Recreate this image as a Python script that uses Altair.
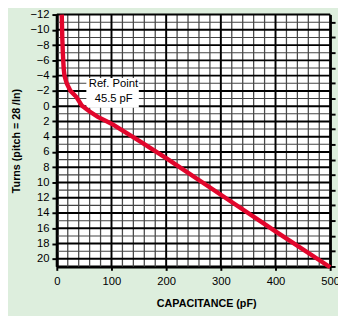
import altair as alt
import pandas as pd

# Curve
cap_pf = [9, 10, 11, 12.5, 14, 18, 25, 36, 45.5, 60, 75, 100, 150, 200, 300, 400, 500]
turns = [-12, -9, -7, -5, -4, -3, -2, -1.2, -0.1, 0.7, 1.4, 2.3, 4.5, 6.8, 11.6, 16.4, 21.1]

x_ticks = [0, 100, 200, 300, 400, 500]
x_minor = [20, 40, 60, 80, 120, 140, 160, 180, 220, 240, 260, 280,
           320, 340, 360, 380, 420, 440, 460, 480]
y_ticks = [-12, -10, -8, -6, -4, -2, 0, 2, 4, 6, 8, 10, 12, 14, 16, 18, 20]
y_minor = [-11, -9, -7, -5, -3, -1, 1, 3, 5, 7, 9, 11, 13, 15, 17, 19]
y_right_ticks = [-11, -9, -7, -5, -3, -1, 1, 3, 5, 7, 9, 11, 13, 15, 17, 19, 21]

ann_text = ["Ref. Point", "45.5 pF"]
ann_x = [103.5, 104]
ann_y = [-2.9, -0.9]
box_x = [54, 150]
box_y = [-3.7, 0.2]

FONT = "Liberation Sans"
xs = alt.Scale(domain=[0, 500], nice=False, zero=False)
ys = alt.Scale(domain=[-12, 21], reverse=True, nice=False, zero=False)

df_line = pd.DataFrame({"c": cap_pf, "t": turns})
df_xmin = pd.DataFrame({"x": x_minor})
df_xmaj = pd.DataFrame({"x": x_ticks})
df_ymin = pd.DataFrame({"y": y_minor})
df_ymaj = pd.DataFrame({"y": y_ticks})
df_box = pd.DataFrame({"x": [box_x[0]], "x2": [box_x[1]], "y": [box_y[0]], "y2": [box_y[1]]})
df_ann = pd.DataFrame({"x": ann_x, "y": ann_y, "label": ann_text})

vmin = alt.Chart(df_xmin).mark_rule(color="#4a4a4a", strokeWidth=1.3).encode(
    x=alt.X("x:Q", scale=xs, axis=None))
hmin = alt.Chart(df_ymin).mark_rule(color="#444444", strokeWidth=1.1).encode(
    y=alt.Y("y:Q", scale=ys, axis=alt.Axis(
        orient="right", values=y_right_ticks, labels=False, title=None, grid=False,
        domain=True, domainColor="black", domainWidth=2.5,
        ticks=True, tickColor="black", tickSize=5, tickWidth=2)))
vmaj = alt.Chart(df_xmaj).mark_rule(color="black", strokeWidth=2).encode(
    x=alt.X("x:Q", scale=xs, axis=None))
hmaj = alt.Chart(df_ymaj).mark_rule(color="black", strokeWidth=2).encode(
    y=alt.Y("y:Q", scale=ys, axis=None))

box = alt.Chart(df_box).mark_rect(color="white").encode(
    x=alt.X("x:Q", scale=xs, axis=None), x2="x2:Q",
    y=alt.Y("y:Q", scale=ys, axis=None), y2="y2:Q")
ann = alt.Chart(df_ann).mark_text(font=FONT, fontSize=11.5, color="black").encode(
    x=alt.X("x:Q", scale=xs, axis=None),
    y=alt.Y("y:Q", scale=ys, axis=None),
    text="label:N")

line = alt.Chart(df_line).mark_line(color="#e2062c", strokeWidth=4.5, strokeCap="butt").encode(
    x=alt.X("c:Q", scale=xs, axis=alt.Axis(
        values=x_ticks, title="CAPACITANCE (pF)", grid=False,
        domain=True, domainColor="black", domainWidth=3,
        ticks=True, tickColor="black", tickSize=4, tickWidth=2,
        labelFont=FONT, labelFontSize=11.5, labelColor="black", labelPadding=5,
        labelFlush=False,
        titleFont=FONT, titleFontSize=11, titleFontWeight="bold", titleColor="black",
        titleX=153, titleY=38, titleBaseline="middle", titleAlign="center")),
    y=alt.Y("t:Q", scale=ys, axis=alt.Axis(
        values=y_ticks, title="Turns (pitch = 28 /In)", grid=False,
        domain=True, domainColor="black", domainWidth=3,
        ticks=True, tickColor="black", tickSize=5, tickWidth=2,
        labelFont=FONT, labelFontSize=11.5, labelColor="black", labelPadding=3,
        labelFlush=False,
        titleFont=FONT, titleFontSize=11, titleFontWeight="bold", titleColor="black",
        titleX=-41, titleY=129, titleBaseline="middle", titleAlign="center")),
    order=alt.Order("c:Q"))

chart = alt.layer(vmin, hmin, vmaj, hmaj, box, ann, line).resolve_axis(
    y="independent", x="independent"
).properties(
    width=280, height=258,
    padding={"left": 50, "top": 3, "right": 8, "bottom": 47},
    autosize=alt.AutoSizeParams(type="none"),
    background="#ddeedd",
).configure_view(fill="white", stroke=None)

chart.save("out.html", embed_options={"renderer": "svg", "actions": False})
